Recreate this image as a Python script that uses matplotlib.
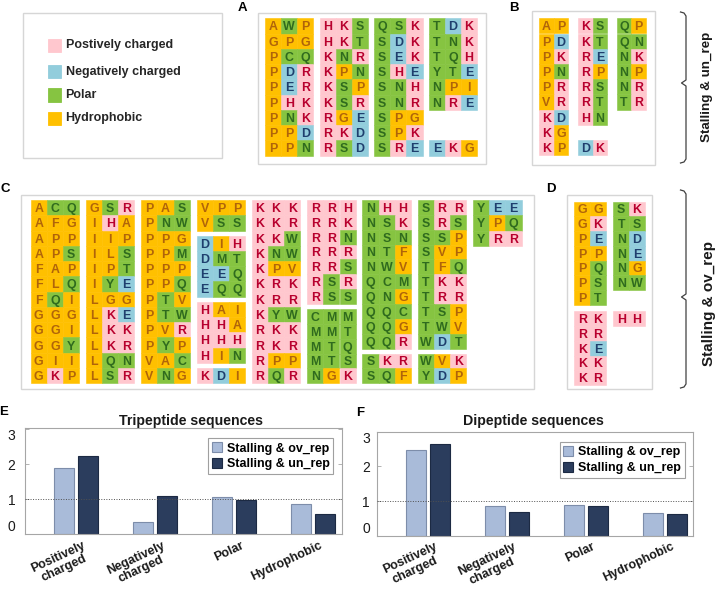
import matplotlib
matplotlib.use("Agg")
import matplotlib.pyplot as plt
from matplotlib.patches import Rectangle
from matplotlib.transforms import ScaledTranslation
import numpy as np

plt.rcParams['font.family'] = ['Liberation Sans', 'DejaVu Sans']

# ---------------- data ----------------
POSITIVE = "KRH"
NEGATIVE = "DE"
POLAR = "STNQCYWM"
HYDROPHOBIC = "AGPVILF"

legend_labels = ["Postively charged", "Negatively charged", "Polar", "Hydrophobic"]

# each group is a list of blocks, each block a list of rows (None = empty row)
panel_a_groups = [
    [["AWP", "GPG", "PCQ", "PDR", "PER", "PHK", "PNK", "PPD", "PPN"]],
    [["HKS", "HKT", "KNR", "KPN", "KSP", "KSR", "RGE", "RKD", "RSD"]],
    [["QSK", "SDK", "SEK", "SHE", "SNH", "SNR", "SPG", "SPK", "SRE"]],
    [["TDK", "TNK", "TQH", "YTE", "NPI", "NRE", None, None, "EKG"]],
]
panel_b_groups = [
    [["AP", "PD", "PK", "PN", "PR", "VR", "KD", "KG", "KP"]],
    [["KS", "KT", "RE", "RP", "RS", "RT", "HN", None, "DK"]],
    [["QP", "QN", "NK", "NP", "NR", "TR"]],
]
panel_c_groups = [
    [["ACQ", "AFG", "APP", "APS", "FAP", "FLQ", "FQI", "GGG", "GGI", "GGY", "GII", "GKP"]],
    [["GSR", "IHA", "IIP", "ILS", "IPT", "IYE", "LGG", "LKE", "LKK", "LKR", "LQN", "LSR"]],
    [["PAS", "PNW", "PPG", "PPM", "PPP", "PPQ", "PTV", "PTW", "PVR", "PYP", "VAC", "VNG"]],
    [["VPP", "VSS"], ["DIH", "DMT", "EEQ", "EQQ"], ["HAI", "HHA", "HHH", "HIN"], ["KDI"]],
    [["KKK", "KKR", "KKW", "KNW", "KPV", "KRK", "KRR", "KYW", "RKK", "RKR", "RPP", "RQR"]],
    [["RRH", "RRK", "RRN", "RRR", "RRS", "RSR", "RSS"], ["CMM", "MMT", "MTQ", "MTS", "NGK"]],
    [["NHH", "NSK", "NSN", "NTF", "NWV", "QCM", "QNG", "QQC", "QQG", "QQR"], ["SKR", "SQF"]],
    [["SRR", "SRS", "SSP", "SVP", "TFQ", "TKK", "TRR", "TSP", "TWV", "WDT"], ["WVK", "YDP"]],
    [["YEE", "YPQ", "YRR"]],
]
panel_d_groups = [
    [["GG", "GK", "PE", "PP", "PQ", "PS", "PT"], ["RK", "RR", "KE", "KK", "KR"]],
    [["SK", "TS", "ND", "NE", "NG", "NW", None], ["HH", None, None, None, None]],
]

bar_categories = ["Positively\ncharged", "Negatively\ncharged", "Polar", "Hydrophobic"]
series_labels = ["Stalling & ov_rep", "Stalling & un_rep"]
tri_ov = [1.90, 0.34, 1.07, 0.86]
tri_un = [2.25, 1.10, 0.99, 0.57]
di_ov = [2.46, 0.85, 0.89, 0.65]
di_un = [2.65, 0.70, 0.86, 0.63]

# ---------------- style ----------------
BG = ['#FFC7CE', '#92CDDC', '#86C441', '#FFC000']
FG = ['#B8002E', '#1F3F6E', '#2F6B1E', '#B0640A']
BOX_EC = '#D6D6D6'
LIGHT, LIGHT_EC = '#A9BBD9', '#7D8DAA'
DARK, DARK_EC = '#2B3D5D', '#1C2A43'
SPINE = '#A6A6A6'


def category(aa):
    if aa in POSITIVE:
        return 0
    if aa in NEGATIVE:
        return 1
    if aa in POLAR:
        return 2
    return 3


fig = plt.figure(figsize=(7.18, 5.90), dpi=100)
ov = fig.add_axes([0, 0, 1, 1])
ov.set_xlim(0, 718)
ov.set_ylim(590, 0)
ov.axis('off')

CELL_FS = 8.9
CAP = 0.716 * CELL_FS * 100 / 72


def draw_panel(groups, x0, pitch, cell_w, y0, height, row_h, gap):
    for gi, blocks in enumerate(groups):
        gx = x0 + gi * pitch
        n_rows = sum(len(b) for b in blocks)
        rh = min(row_h, (height - gap * (len(blocks) - 1)) / n_rows)
        y = y0
        for block in blocks:
            for row in block:
                if row is not None:
                    for ci, aa in enumerate(row):
                        k = category(aa)
                        ov.add_patch(Rectangle((gx + ci * cell_w, y), cell_w, rh,
                                               facecolor=BG[k], edgecolor=BG[k], lw=0.4))
                        ov.text(gx + (ci + 0.5) * cell_w, y + rh / 2 + CAP / 2, aa,
                                ha='center', va='baseline', fontsize=CELL_FS,
                                fontweight='bold', color=FG[k])
                y += rh
            y += gap


def box(x0, y0, x1, y1):
    ov.add_patch(Rectangle((x0, y0), x1 - x0, y1 - y0, fill=False,
                           edgecolor=BOX_EC, lw=1.0))


def bracket(x, y_top, y_bot, y_tip):
    h = 5.5
    xs = [x - h, x - 2, x, x, x - 4.5, x, x, x - 2, x - h]
    ys = [y_top, y_top + 1, y_top + 4, y_tip - 3, y_tip, y_tip + 3, y_bot - 4, y_bot - 1, y_bot]
    ov.plot(xs, ys, color='#404040', lw=0.9, solid_joinstyle='round')


# boxes
box(22.7, 12.7, 221.7, 158.3)
box(257.7, 12.7, 485.7, 164.3)
box(532.3, 10.7, 655.0, 165.0)
box(20.7, 195.0, 534.0, 389.0)
box(566.7, 195.0, 651.7, 389.0)

# legend of residue classes
leg_y = [45.3, 71.5, 95.0, 118.5]
for lab, yy, k in zip(legend_labels, leg_y, range(4)):
    ov.add_patch(Rectangle((47.7, yy - 6.7), 13.3, 13.3, facecolor=BG[k],
                           edgecolor=BG[k], lw=0.6))
    ov.text(65.5, yy, lab, ha='left', va='center', fontsize=9,
            fontweight='bold', color='#262626')

# residue grids
draw_panel(panel_a_groups, 265.0, 54.6, 16.1, 18.3, 9 * 15.25, 15.25, 5)
draw_panel(panel_b_groups, 539.0, 38.8, 14.7, 18.3, 9 * 15.2, 15.2, 5)
draw_panel(panel_c_groups, 30.7, 55.3, 16.15, 200.0, 183.3, 15.28, 5)
draw_panel(panel_d_groups, 574.3, 39.0, 15.7, 201.7, 183.3, 15.3, 6.7)

# panel letters
for lab, (px, py) in zip("ABCDEF", [(242, 8), (514, 8), (5, 189), (551, 189),
                                    (4, 412), (360, 413)]):
    ov.text(px, py, lab, ha='center', va='center', fontsize=9.5,
            fontweight='bold', color='black')

# brackets and side labels
bracket(686, 12, 163, 83)
bracket(686, 190, 388, 297)
ov.text(707, 87, "Stalling & un_rep", rotation=90, ha='center', va='center',
        fontsize=9.6, fontweight='bold', color='#1a1a1a')
ov.text(709, 303, "Stalling & ov_rep", rotation=90, ha='center', va='center',
        fontsize=11, fontweight='bold', color='#1a1a1a')


# ---------------- bar charts ----------------
def bar_panel(rect, title, vals_ov, vals_un, ytop, title_x, title_pad, ypad, leg_anchor):
    ax = fig.add_axes(rect)
    x = np.arange(1, len(bar_categories) + 1)
    ax.bar(x - 0.152, vals_ov, width=0.253, color=LIGHT, edgecolor=LIGHT_EC,
           lw=0.8, label=series_labels[0], zorder=2)
    ax.bar(x + 0.152, vals_un, width=0.253, color=DARK, edgecolor=DARK_EC,
           lw=0.8, label=series_labels[1], zorder=2)
    ax.axhline(1, color='#505050', ls=(0, (1, 1.6)), lw=0.7, zorder=3)
    ax.set_xlim(0.35, 4.36)
    ax.set_ylim(0, ytop)
    ax.set_yticks([0, 1, 2, 3])
    ax.set_yticklabels(['0', '1', '2', '3'], fontsize=10, color='#1a1a1a')
    tl = ax.get_yticklabels()
    tl[0].set_va('bottom')
    tl[-1].set_va('top')
    ax.tick_params(axis='y', direction='in', length=3, width=0.6, color=SPINE,
                   right=True, pad=ypad)
    ax.set_xticks(x)
    ax.set_xticklabels(bar_categories, rotation=25, ha='right', rotation_mode='anchor',
                       fontsize=9, fontweight='bold', color='#1a1a1a',
                       multialignment='center', va='top', linespacing=1.05)
    ax.tick_params(axis='x', length=0, pad=3.5)
    off = ScaledTranslation(6 / 100, 0, fig.dpi_scale_trans)
    for lab in ax.get_xticklabels():
        lab.set_transform(lab.get_transform() + off)
    for s in ax.spines.values():
        s.set_color(SPINE)
        s.set_linewidth(0.8)
    ax.set_title(title, fontsize=10.2, fontweight='bold', x=title_x, pad=title_pad,
                 color='#1a1a1a')
    leg = ax.legend(loc='upper right', bbox_to_anchor=leg_anchor, borderaxespad=0,
                    frameon=True, fancybox=False, edgecolor='#A0A0A0', framealpha=1,
                    handlelength=0.8, handleheight=0.9, handletextpad=0.4,
                    borderpad=0.3, labelspacing=0.25,
                    prop=dict(size=9, weight='bold'))
    leg.get_frame().set_linewidth(0.8)
    return ax


W, H = 718.0, 590.0
bar_panel([25 / W, (H - 534.3) / H, 316.7 / W, 106.0 / H], "Tripeptide sequences",
          tri_ov, tri_un, 3.03, 0.524, 2.4, 7, (0.9735, 0.9057))
bar_panel([376.7 / W, (H - 536.0) / H, 316.7 / W, 104.3 / H], "Dipeptide sequences",
          di_ov, di_un, 3.0, 0.495, 4.8, 5, (0.9735, 0.9))

fig.savefig("out.png", dpi=100)
